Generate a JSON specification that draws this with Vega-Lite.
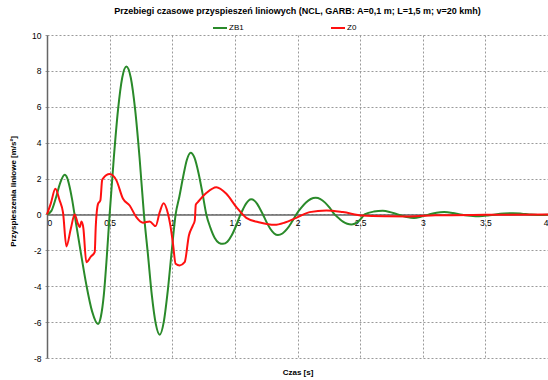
{
  "$schema": "https://vega.github.io/schema/vega-lite/v6.json",
  "width": 501,
  "height": 323,
  "autosize": "none",
  "padding": {"left": 47, "top": 35, "right": 0, "bottom": 22},
  "background": "white",
  "title": {
    "text": "Przebiegi czasowe przyspieszeń liniowych (NCL, GARB:  A=0,1 m; L=1,5 m; v=20 kmh)",
    "fontSize": 9,
    "fontWeight": "bold",
    "font": "Liberation Sans",
    "color": "#000000",
    "anchor": "middle",
    "offset": 4
  },
  "datasets": {
    "zb1": [
      {"t": 0, "v": 0}, {"t": 0.035, "v": 0.2}, {"t": 0.07, "v": 0.9}, {"t": 0.105, "v": 1.75},
      {"t": 0.141, "v": 2.21}, {"t": 0.161, "v": 2.04}, {"t": 0.18, "v": 1.56}, {"t": 0.2, "v": 0.85},
      {"t": 0.22, "v": 0}, {"t": 0.267, "v": -2.0}, {"t": 0.3135, "v": -3.9}, {"t": 0.36, "v": -5.4},
      {"t": 0.407, "v": -6.1}, {"t": 0.43, "v": -5.7}, {"t": 0.4535, "v": -4.5}, {"t": 0.477, "v": -2.4},
      {"t": 0.5, "v": 0}, {"t": 0.5335, "v": 3.16}, {"t": 0.567, "v": 5.83}, {"t": 0.6005, "v": 7.62},
      {"t": 0.634, "v": 8.25}, {"t": 0.669, "v": 7.62}, {"t": 0.704, "v": 5.83}, {"t": 0.739, "v": 3.16},
      {"t": 0.774, "v": 0}, {"t": 0.8055, "v": -2.2}, {"t": 0.837, "v": -4.5}, {"t": 0.8685, "v": -6.1},
      {"t": 0.9, "v": -6.7}, {"t": 0.932, "v": -6.0}, {"t": 0.9635, "v": -4.3}, {"t": 0.995, "v": -2.1},
      {"t": 1.027, "v": 0}, {"t": 1.057, "v": 1.0}, {"t": 1.087, "v": 2.1}, {"t": 1.117, "v": 3.05},
      {"t": 1.147, "v": 3.44}, {"t": 1.178, "v": 3.15}, {"t": 1.21, "v": 2.3}, {"t": 1.241, "v": 1.2},
      {"t": 1.272, "v": 0}, {"t": 1.305, "v": -0.75}, {"t": 1.338, "v": -1.3}, {"t": 1.372, "v": -1.58},
      {"t": 1.405, "v": -1.64}, {"t": 1.44, "v": -1.52}, {"t": 1.475, "v": -1.16}, {"t": 1.51, "v": -0.63},
      {"t": 1.545, "v": 0}, {"t": 1.567, "v": 0.32}, {"t": 1.588, "v": 0.59}, {"t": 1.61, "v": 0.78},
      {"t": 1.631, "v": 0.84}, {"t": 1.654, "v": 0.78}, {"t": 1.678, "v": 0.59}, {"t": 1.7, "v": 0.32},
      {"t": 1.724, "v": 0}, {"t": 1.754, "v": -0.44}, {"t": 1.784, "v": -0.81}, {"t": 1.814, "v": -1.06},
      {"t": 1.844, "v": -1.15}, {"t": 1.88, "v": -1.06}, {"t": 1.917, "v": -0.81}, {"t": 1.953, "v": -0.44},
      {"t": 1.99, "v": 0}, {"t": 2.029, "v": 0.36}, {"t": 2.068, "v": 0.66}, {"t": 2.106, "v": 0.86},
      {"t": 2.145, "v": 0.93}, {"t": 2.183, "v": 0.86}, {"t": 2.22, "v": 0.66}, {"t": 2.258, "v": 0.36},
      {"t": 2.296, "v": 0}, {"t": 2.33, "v": -0.21}, {"t": 2.363, "v": -0.4}, {"t": 2.397, "v": -0.52},
      {"t": 2.43, "v": -0.56}, {"t": 2.456, "v": -0.52}, {"t": 2.483, "v": -0.4}, {"t": 2.51, "v": -0.21},
      {"t": 2.536, "v": 0}, {"t": 2.61, "v": 0.16}, {"t": 2.68, "v": 0.2}, {"t": 2.74, "v": 0.13},
      {"t": 2.8, "v": 0}, {"t": 2.87, "v": -0.14}, {"t": 2.93, "v": -0.2}, {"t": 2.99, "v": -0.12},
      {"t": 3.05, "v": 0}, {"t": 3.11, "v": 0.1}, {"t": 3.17, "v": 0.13}, {"t": 3.24, "v": 0.08},
      {"t": 3.3, "v": 0}, {"t": 3.38, "v": -0.07}, {"t": 3.45, "v": -0.1}, {"t": 3.52, "v": -0.06},
      {"t": 3.58, "v": 0}, {"t": 3.65, "v": 0.05}, {"t": 3.72, "v": 0.07}, {"t": 3.79, "v": 0.04},
      {"t": 3.85, "v": 0}, {"t": 3.92, "v": -0.03}, {"t": 4.0, "v": -0.02}
    ],
    "z0": [
      {"t": 0, "v": 0}, {"t": 0.03, "v": 0.6}, {"t": 0.067, "v": 1.43}, {"t": 0.1, "v": 0.8},
      {"t": 0.128, "v": 0.1}, {"t": 0.155, "v": -1.78}, {"t": 0.19, "v": -0.8}, {"t": 0.221, "v": 0},
      {"t": 0.247, "v": -0.52}, {"t": 0.262, "v": -0.71}, {"t": 0.275, "v": -0.4}, {"t": 0.29, "v": -0.75},
      {"t": 0.314, "v": -2.66}, {"t": 0.35, "v": -2.35}, {"t": 0.381, "v": -2.1}, {"t": 0.389, "v": -0.71},
      {"t": 0.408, "v": 0.6}, {"t": 0.426, "v": 0.78}, {"t": 0.44, "v": 1.9}, {"t": 0.447, "v": 2.0},
      {"t": 0.5, "v": 2.25}, {"t": 0.554, "v": 1.9}, {"t": 0.607, "v": 0.87}, {"t": 0.66, "v": 0.5},
      {"t": 0.713, "v": -0.15}, {"t": 0.766, "v": -0.46}, {"t": 0.82, "v": -0.39}, {"t": 0.867, "v": -0.65},
      {"t": 0.9, "v": 0.13}, {"t": 0.931, "v": 0.63}, {"t": 0.966, "v": 0.04}, {"t": 0.985, "v": -0.61},
      {"t": 1.006, "v": -1.64}, {"t": 1.027, "v": -2.75}, {"t": 1.059, "v": -2.84}, {"t": 1.099, "v": -2.66},
      {"t": 1.133, "v": -1.17}, {"t": 1.165, "v": -0.61}, {"t": 1.18, "v": -0.33}, {"t": 1.188, "v": 0.55},
      {"t": 1.205, "v": 0.69}, {"t": 1.272, "v": 1.19}, {"t": 1.352, "v": 1.52}, {"t": 1.432, "v": 1.15},
      {"t": 1.512, "v": 0.41}, {"t": 1.591, "v": -0.19}, {"t": 1.7, "v": -0.45}, {"t": 1.817, "v": -0.58},
      {"t": 1.9, "v": -0.45}, {"t": 1.99, "v": -0.19}, {"t": 2.097, "v": 0.13}, {"t": 2.23, "v": 0.22},
      {"t": 2.362, "v": 0.13}, {"t": 2.52, "v": -0.06}, {"t": 2.7, "v": -0.1}, {"t": 2.895, "v": -0.11},
      {"t": 3.1, "v": -0.05}, {"t": 3.5, "v": -0.02}, {"t": 4.0, "v": 0}
    ]
  },
  "encoding": {
    "x": {
      "field": "t", "type": "quantitative",
      "scale": {"domain": [0, 4], "nice": false, "zero": false},
      "axis": {
        "title": "Czas [s]",
        "values": [0, 0.5, 1, 1.5, 2, 2.5, 3, 3.5, 4],
        "offset": -143.6,
        "titleY": 154,
        "labelExpr": "replace('' + datum.value, '.', ',')",
        "grid": true
      }
    },
    "y": {
      "field": "v", "type": "quantitative",
      "scale": {"domain": [-8, 10], "nice": false, "zero": false},
      "axis": {
        "title": "Przyspieszenia liniowe [m/s²]",
        "values": [-8, -6, -4, -2, 0, 2, 4, 6, 8, 10],
        "labelExpr": "'' + datum.value",
        "titleX": -30,
        "titleY": 156,
        "grid": true
      }
    },
    "color": {
      "datum": "ZB1",
      "type": "nominal",
      "scale": {"domain": ["ZB1", "Z0"], "range": ["#2a8a2a", "#ff1010"]},
      "legend": {
        "title": null,
        "orient": "none",
        "direction": "horizontal",
        "legendX": 165,
        "legendY": -15,
        "symbolType": "stroke",
        "symbolSize": 196,
        "symbolStrokeWidth": 2,
        "labelFontSize": 8,
        "labelFont": "Liberation Sans",
        "labelOffset": 1,
        "columnPadding": 83
      }
    }
  },
  "layer": [
    {
      "data": {"name": "zb1"},
      "mark": {"type": "line", "interpolate": "monotone", "strokeWidth": 2}
    },
    {
      "data": {"name": "z0"},
      "mark": {"type": "line", "interpolate": "monotone", "strokeWidth": 2},
      "encoding": {"color": {"datum": "Z0", "type": "nominal"}}
    }
  ],
  "config": {
    "view": {"stroke": null},
    "axis": {
      "labelFont": "Liberation Sans",
      "labelFontSize": 8.5,
      "labelColor": "#000000",
      "titleFont": "Liberation Sans",
      "titleFontSize": 8,
      "titleFontWeight": "bold",
      "titleColor": "#000000",
      "gridColor": "#9a9a9a",
      "gridDash": [2, 2],
      "gridWidth": 1,
      "domainColor": "#666666",
      "domainWidth": 1.5,
      "tickColor": "#9a9a9a",
      "tickSize": 4,
      "tickDash": [2, 2],
      "labelPadding": 2
    },
    "axisX": {"ticks": false, "labelPadding": 4},
    "axisY": {"domainWidth": 1.5}
  }
}
